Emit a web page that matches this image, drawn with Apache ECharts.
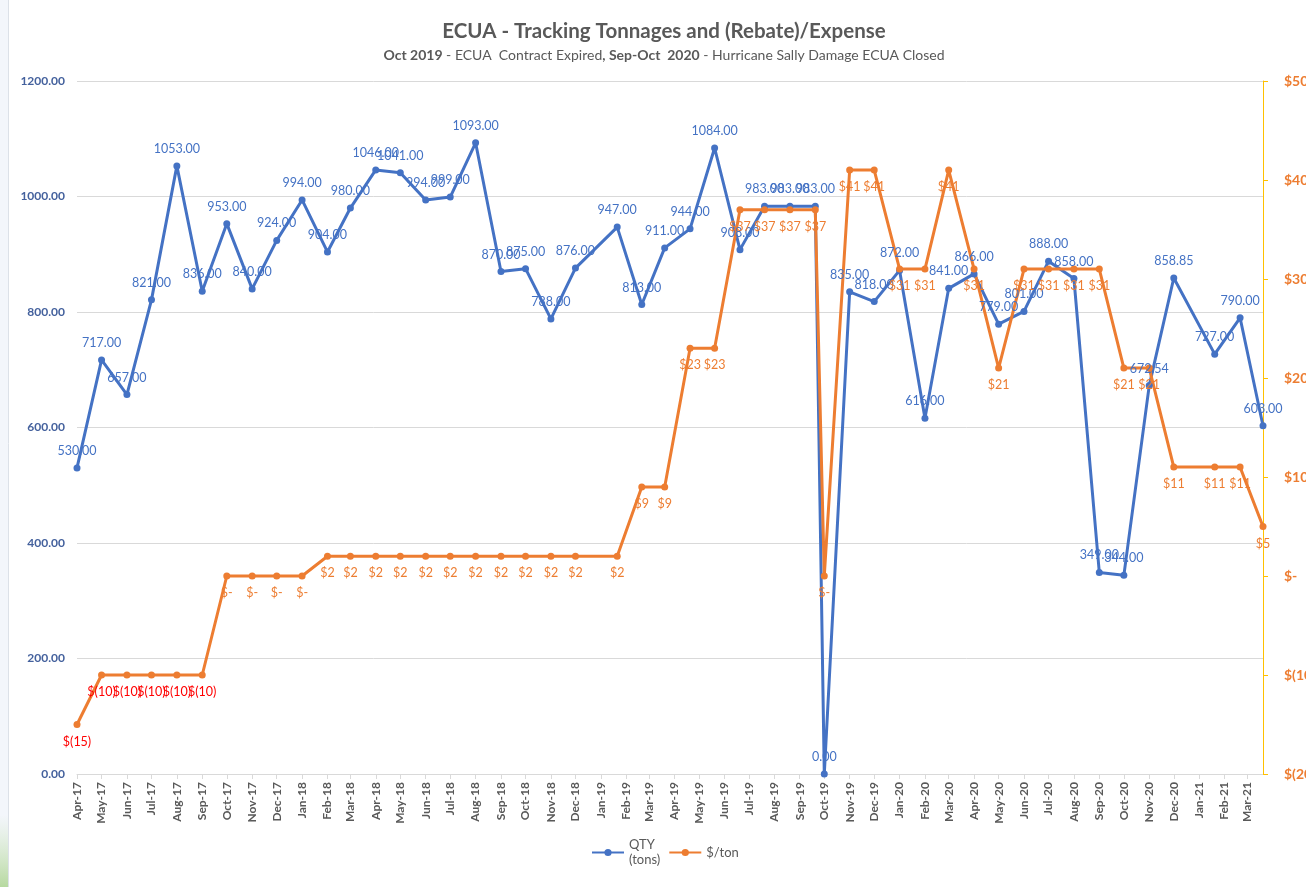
<!DOCTYPE html>
<html>
<head>
<meta charset="utf-8">
<title>ECUA - Tracking Tonnages and (Rebate)/Expense</title>
<script src="https://cdn.jsdelivr.net/npm/echarts@6/dist/echarts.min.js"></script>
<style>
html, body { margin: 0; padding: 0; background: #fff; }
#chart { width: 1306px; height: 887px; }
</style>
</head>
<body>
<div id="chart"></div>
<script>
// reading dates (Excel date axis, so spacing is not always one month)
const dates = [
    '2017-04-01', '2017-05-01', '2017-06-01', '2017-07-01', '2017-08-01', '2017-09-01',
    '2017-10-01', '2017-11-01', '2017-12-01',
    '2018-01-01', '2018-02-01', '2018-03-01', '2018-04-01', '2018-05-01', '2018-06-01',
    '2018-07-01', '2018-08-01', '2018-09-01', '2018-10-01', '2018-11-01', '2018-12-01',
    '2019-01-21', '2019-02-20', '2019-03-20', '2019-04-20', '2019-05-20', '2019-06-20',
    '2019-07-20', '2019-08-20', '2019-09-20', '2019-10-01', '2019-11-01', '2019-12-01',
    '2020-01-01', '2020-02-01', '2020-03-01', '2020-04-01', '2020-05-01', '2020-06-01',
    '2020-07-01', '2020-08-01', '2020-09-01', '2020-10-01', '2020-11-01', '2020-12-01',
    '2021-01-20', '2021-02-20', '2021-03-20'
];

// QTY (tons)
const qty = [
    530, 717, 657, 821, 1053, 836, 953, 840, 924,
    994, 904, 980, 1046, 1041, 994, 999, 1093, 870, 875, 788, 876,
    947, 813, 911, 944, 1084, 908, 983, 983, 983, 0, 835, 818,
    872, 616, 841, 866, 779, 801, 888, 858, 349, 344, 672.54, 858.85,
    727, 790, 603
];

// $/ton, negative = rebate
const perTon = [
    -15, -10, -10, -10, -10, -10, 0, 0, 0,
    0, 2, 2, 2, 2, 2, 2, 2, 2, 2, 2, 2,
    2, 9, 9, 23, 23, 37, 37, 37, 37, 0, 41, 41,
    31, 31, 41, 31, 21, 31, 31, 31, 31, 21, 21, 11,
    11, 11, 5
];

const blue = '#4472C4';
const orange = '#ED7D31';
const font = 'Lato, "Open Sans", sans-serif';

// Excel accounting style: $(10), $-, $23
function money(v) {
    if (v === 0) return '$-';
    if (v < 0) return '$(' + Math.abs(v) + ')';
    return '$' + v;
}

const chart = echarts.init(document.getElementById('chart'));

chart.setOption({
    backgroundColor: '#ffffff',
    textStyle: { fontFamily: font },
    animation: false,
    title: {
        text: 'ECUA - Tracking Tonnages and (Rebate)/Expense',
        subtext: '{b|Oct 2019} - ECUA  Contract Expired{b|, Sep-Oct  2020} - Hurricane Sally Damage ECUA Closed',
        left: 659,
        textAlign: 'center',
        top: 16,
        itemGap: 6,
        textStyle: { fontFamily: font, fontSize: 20.5, fontWeight: 'bold', color: '#595959' },
        subtextStyle: {
            fontFamily: font, fontSize: 14, color: '#595959',
            rich: { b: { fontFamily: font, fontSize: 14, fontWeight: 'bold', color: '#595959' } }
        }
    },
    legend: {
        left: 586,
        top: 825,
        itemWidth: 32,
        itemHeight: 9,
        itemGap: 8,
        textStyle: { fontFamily: font, fontSize: 13, color: '#595959', lineHeight: 15, padding: [15, 0, 0, 0] },
        data: ['QTY\n(tons)', '$/ton']
    },
    graphic: [
        { type: 'rect', shape: { x: 0, y: 0, width: 8, height: 887 }, style: { fill: '#F3F6FB' }, silent: true },
        {
            type: 'rect', shape: { x: 0, y: 815, width: 8, height: 72 },
            style: {
                fill: new echarts.graphic.LinearGradient(0, 0, 0, 1, [
                    { offset: 0, color: 'rgba(200,226,180,0)' },
                    { offset: 1, color: 'rgba(176,214,150,0.9)' }
                ])
            },
            silent: true
        },
        { type: 'line', shape: { x1: 8.5, y1: 0, x2: 8.5, y2: 887 }, style: { stroke: '#DCE1E8', lineWidth: 1 }, silent: true }
    ],
    grid: { left: 77, right: 43, top: 81, bottom: 113, outerBoundsMode: 'none' },
    xAxis: {
        type: 'time',
        min: dates[0],
        max: dates[dates.length - 1],
        splitNumber: 48,
        minInterval: 28 * 86400000,
        maxInterval: 31 * 86400000,
        axisLine: { lineStyle: { color: '#D9D9D9' } },
        axisTick: { show: true, length: 5, lineStyle: { color: '#D9D9D9' } },
        splitLine: { show: false },
        axisLabel: {
            rotate: 90,
            formatter: '{MMM}-{yy}',
            color: '#595959',
            fontFamily: font,
            fontWeight: 'bold',
            fontSize: 12,
            margin: 8,
            hideOverlap: false
        }
    },
    yAxis: [
        {
            type: 'value',
            min: 0,
            max: 1200,
            interval: 200,
            axisLine: { show: false },
            axisTick: { show: false },
            splitLine: { lineStyle: { color: '#D9D9D9' } },
            axisLabel: {
                formatter: v => v.toFixed(2),
                color: '#44619D',
                fontFamily: font,
                fontWeight: 'bold',
                fontSize: 12,
                margin: 12
            }
        },
        {
            type: 'value',
            position: 'right',
            min: -20,
            max: 50,
            interval: 10,
            axisLine: { show: true, lineStyle: { color: '#FFC000' } },
            axisTick: { show: true, length: 5, lineStyle: { color: '#FFC000' } },
            splitLine: { show: false },
            axisLabel: {
                formatter: money,
                color: orange,
                fontFamily: font,
                fontWeight: 'bold',
                fontSize: 14,
                margin: 21
            }
        }
    ],
    series: [
        {
            name: 'QTY\n(tons)',
            type: 'line',
            yAxisIndex: 0,
            data: dates.map((d, i) => [d, qty[i]]),
            symbol: 'circle',
            symbolSize: 7,
            color: blue,
            lineStyle: { width: 3, color: blue },
            itemStyle: { color: blue },
            label: {
                show: true,
                position: 'top',
                distance: 7,
                formatter: p => p.value[1].toFixed(2),
                color: blue,
                fontFamily: font,
                fontSize: 12.5
            }
        },
        {
            name: '$/ton',
            type: 'line',
            yAxisIndex: 1,
            data: dates.map((d, i) => ({
                value: [d, perTon[i]],
                label: { color: perTon[i] < 0 ? '#FF0000' : orange }
            })),
            symbol: 'circle',
            symbolSize: 7,
            color: orange,
            lineStyle: { width: 3, color: orange },
            itemStyle: { color: orange },
            label: {
                show: true,
                position: 'bottom',
                distance: 7,
                formatter: p => money(p.value[1]),
                fontFamily: font,
                fontSize: 12.5
            }
        }
    ]
});
</script>
</body>
</html>
